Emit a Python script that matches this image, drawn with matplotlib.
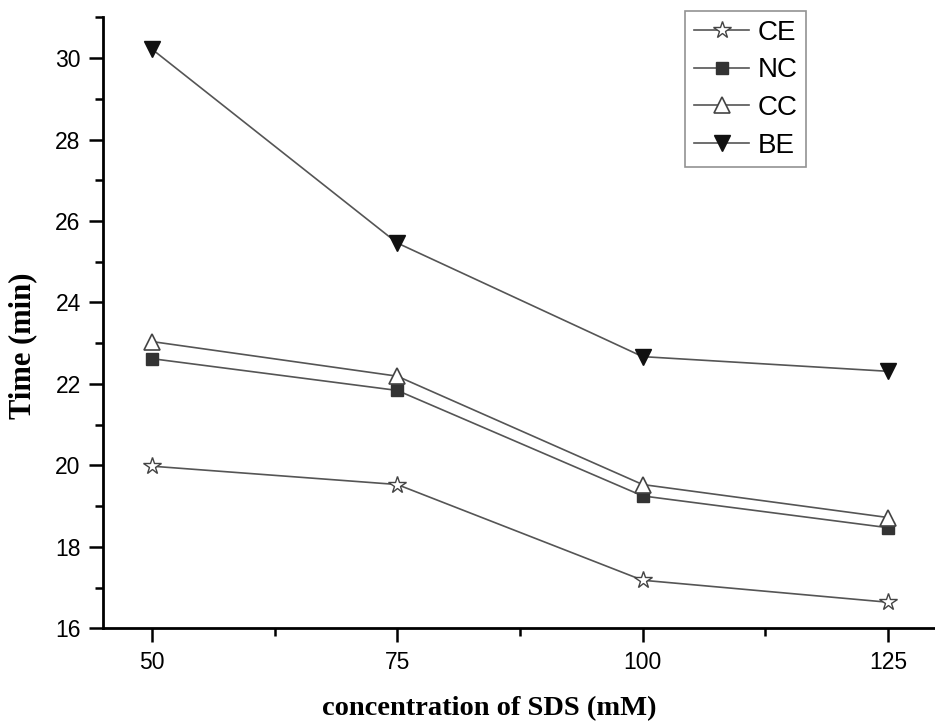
# Retention time vs SDS concentration

# Import
import matplotlib
matplotlib.use("Agg")
import matplotlib.pyplot as plt
from matplotlib.ticker import MultipleLocator

# Data
sds_conc = [50, 75, 100, 125]
ce_time = [19.98, 19.53, 17.18, 16.64]
nc_time = [22.62, 21.84, 19.25, 18.47]
cc_time = [23.04, 22.19, 19.53, 18.72]
be_time = [30.22, 25.46, 22.67, 22.31]

# Plotting
fig = plt.figure(figsize=(9.35, 7.23), dpi=100)
ax = fig.add_axes([0.110, 0.131, 0.890, 0.845])

line_col = "#555555"
ax.plot(sds_conc, ce_time, color=line_col, lw=1.2, marker="*", ms=13,
        mfc="white", mec="#444444", mew=1.0, label="CE")
ax.plot(sds_conc, nc_time, color=line_col, lw=1.2, marker="s", ms=9,
        mfc="#333333", mec="#333333", label="NC")
ax.plot(sds_conc, cc_time, color=line_col, lw=1.2, marker="^", ms=12,
        mfc="white", mec="#444444", mew=1.2, label="CC")
ax.plot(sds_conc, be_time, color=line_col, lw=1.2, marker="v", ms=12,
        mfc="#111111", mec="#111111", label="BE")

ax.set_xlim(45, 129.8)
ax.set_ylim(16, 31)
ax.set_xticks(sds_conc)
ax.xaxis.set_minor_locator(MultipleLocator(12.5))
ax.yaxis.set_major_locator(MultipleLocator(2))
ax.yaxis.set_minor_locator(MultipleLocator(1))

for side in ["top", "right"]:
    ax.spines[side].set_visible(False)
for side in ["left", "bottom"]:
    ax.spines[side].set_linewidth(2)

ax.tick_params(which="major", direction="out", length=10, width=1.8,
               labelsize=16.5, pad=6)
ax.tick_params(which="minor", direction="out", length=6, width=1.8)
for lab in ax.get_xticklabels() + ax.get_yticklabels():
    lab.set_family("Liberation Sans")

ax.set_xlabel("concentration of SDS (mM)", family="Liberation Serif",
              fontweight="bold", fontsize=20.5, va="center")
ax.xaxis.set_label_coords(0.464, -0.131)
ax.set_ylabel("Time (min)", family="Liberation Serif",
              fontweight="bold", fontsize=22, va="center")
ax.yaxis.set_label_coords(-0.096, 0.463)

leg = ax.legend(loc="upper right", bbox_to_anchor=(0.845, 1.01),
                prop={"family": "Liberation Sans", "size": 20},
                frameon=True, fancybox=False, handlelength=2.0,
                handletextpad=0.3, labelspacing=0.42, borderpad=0.3,
                borderaxespad=0, markerscale=1.0)
leg.get_frame().set_edgecolor("#777777")
leg.get_frame().set_linewidth(1.2)

plt.savefig("out.png", dpi=100)
